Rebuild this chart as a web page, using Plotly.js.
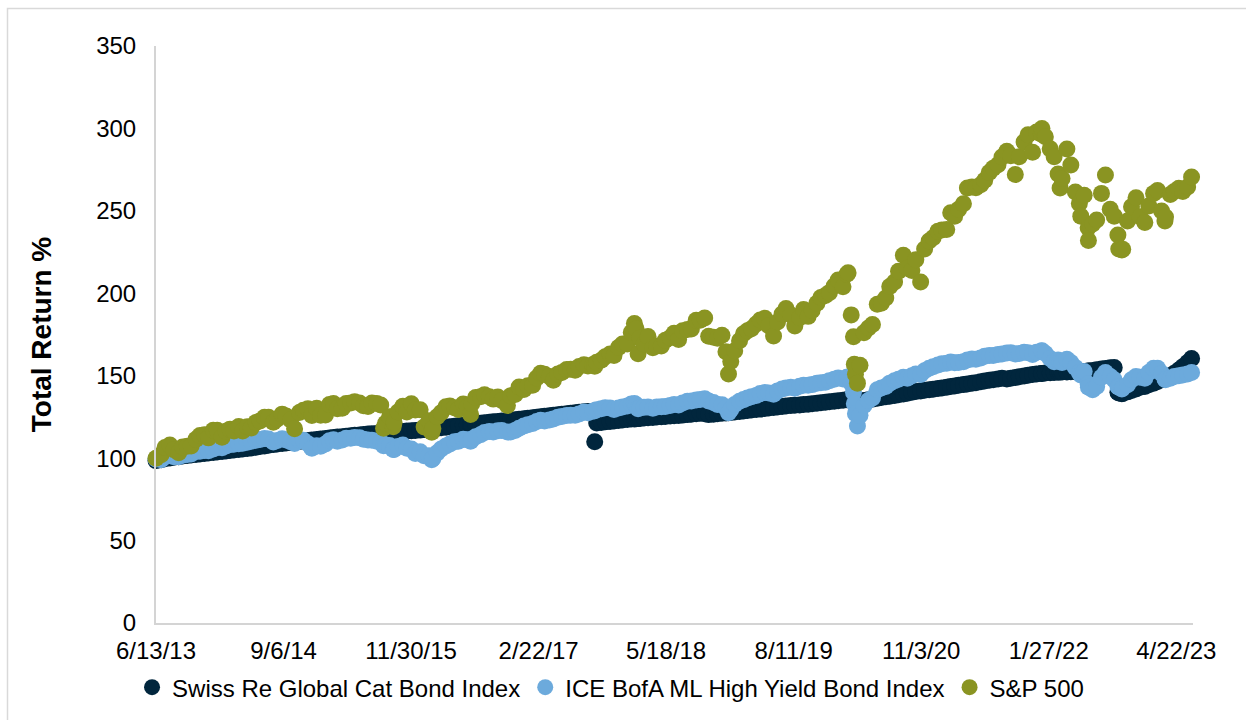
<!DOCTYPE html>
<html>
<head>
<meta charset="utf-8">
<script src="https://cdn.plot.ly/plotly-3.0.1.min.js"></script>
<style>
  html, body { margin: 0; padding: 0; background: #ffffff; }
  #chart { width: 1246px; height: 720px; }
</style>
</head>
<body>
<div id="chart"></div>
<script>
// Observation dates (semi-monthly, plus key market days)
const dates = [
  // 2013
  '2013-06-13','2013-07-01','2013-07-15','2013-08-01','2013-08-15','2013-09-01','2013-09-15','2013-10-01','2013-10-15','2013-11-01','2013-11-15','2013-12-01','2013-12-15',
  // 2014
  '2014-01-01','2014-01-15','2014-02-01','2014-02-15','2014-03-01','2014-03-15','2014-04-01','2014-04-15','2014-05-01','2014-05-15','2014-06-01','2014-06-15',
  '2014-07-01','2014-07-15','2014-08-01','2014-08-15','2014-09-01','2014-09-15','2014-10-01','2014-10-15','2014-11-01','2014-11-15','2014-12-01','2014-12-15',
  // 2015
  '2015-01-01','2015-01-15','2015-02-01','2015-02-15','2015-03-01','2015-03-15','2015-04-01','2015-04-15','2015-05-01','2015-05-15','2015-06-01','2015-06-15',
  '2015-07-01','2015-07-15','2015-08-01','2015-08-15','2015-08-25','2015-09-01','2015-09-15','2015-09-28','2015-10-01','2015-10-15','2015-11-01','2015-11-15','2015-12-01','2015-12-15',
  // 2016
  '2016-01-01','2016-01-15','2016-02-01','2016-02-11','2016-02-15','2016-03-01','2016-03-15','2016-04-01','2016-04-15','2016-05-01','2016-05-15','2016-06-01','2016-06-15',
  '2016-06-27','2016-07-01','2016-07-15','2016-08-01','2016-08-15','2016-09-01','2016-09-15','2016-10-01','2016-10-15','2016-11-04','2016-11-15','2016-12-01','2016-12-15',
  // 2017
  '2017-01-01','2017-01-15','2017-02-01','2017-02-15','2017-03-01','2017-03-15','2017-04-01','2017-04-15','2017-05-01','2017-05-15','2017-06-01','2017-06-15',
  '2017-07-01','2017-07-15','2017-08-01','2017-08-15','2017-09-01','2017-09-08','2017-09-15','2017-10-01','2017-10-15','2017-11-01','2017-11-15','2017-12-01','2017-12-15',
  // 2018
  '2018-01-01','2018-01-15','2018-01-26','2018-02-01','2018-02-08','2018-02-15','2018-03-01','2018-03-15','2018-04-01','2018-04-15','2018-05-01','2018-05-15','2018-06-01','2018-06-15',
  '2018-07-01','2018-07-15','2018-08-01','2018-08-15','2018-09-01','2018-09-15','2018-10-01','2018-10-15','2018-11-01','2018-11-15','2018-12-01','2018-12-15','2018-12-24',
  // 2019
  '2019-01-01','2019-01-15','2019-02-01','2019-02-15','2019-03-01','2019-03-15','2019-04-01','2019-04-15','2019-05-01','2019-05-15','2019-06-01','2019-06-15',
  '2019-07-01','2019-07-15','2019-08-01','2019-08-15','2019-09-01','2019-09-15','2019-10-01','2019-10-15','2019-11-01','2019-11-15','2019-12-01','2019-12-15',
  // 2020
  '2020-01-01','2020-01-15','2020-02-01','2020-02-15','2020-02-19','2020-03-01','2020-03-09','2020-03-12','2020-03-16','2020-03-23','2020-04-01','2020-04-15','2020-05-01','2020-05-15',
  '2020-06-01','2020-06-15','2020-07-01','2020-07-15','2020-08-01','2020-08-15','2020-09-01','2020-09-15','2020-10-01','2020-10-15','2020-11-01','2020-11-15','2020-12-01','2020-12-15',
  // 2021
  '2021-01-01','2021-01-15','2021-02-01','2021-02-15','2021-03-01','2021-03-15','2021-04-01','2021-04-15','2021-05-01','2021-05-15','2021-06-01','2021-06-15',
  '2021-07-01','2021-07-15','2021-08-01','2021-08-15','2021-09-01','2021-09-15','2021-10-01','2021-10-15','2021-11-01','2021-11-15','2021-12-01','2021-12-15',
  // 2022
  '2022-01-01','2022-01-03','2022-01-15','2022-02-01','2022-02-15','2022-03-01','2022-03-08','2022-03-15','2022-04-01','2022-04-15','2022-05-01','2022-05-15','2022-05-20','2022-06-01','2022-06-15',
  '2022-06-16','2022-07-01','2022-07-15','2022-08-01','2022-08-15','2022-09-01','2022-09-15','2022-09-28','2022-10-01','2022-10-12','2022-10-15','2022-11-01','2022-11-15','2022-12-01','2022-12-15',
  // 2023
  '2023-01-01','2023-01-15','2023-02-01','2023-02-15','2023-03-01','2023-03-13','2023-03-15','2023-04-01','2023-04-15','2023-05-01','2023-05-15','2023-06-01','2023-06-15'
];

// Swiss Re Global Cat Bond Index, rebased to 100
const catBond = [
  98.5, 99.0, 99.6, 100.1, 100.5, 100.9, 101.3, 101.6, 101.9, 102.2, 102.5, 102.8, 103.1,
  103.4, 103.7, 104.0, 104.3, 104.6, 104.9, 105.2, 105.5, 105.8, 106.2, 106.6, 107.0, 107.4, 107.8, 108.2, 108.6, 108.9, 109.2, 109.5, 109.8, 110.1, 110.4, 110.7, 111.0,
  111.3, 111.6, 111.9, 112.2, 112.5, 112.8, 113.0, 113.3, 113.6, 113.9, 114.1, 114.4, 114.6, 114.8, 115.0, 115.2, 115.3, 115.4, 115.6, 115.7, 115.8, 116.0, 116.2, 116.4, 116.6, 116.8,
  117.0, 117.3, 117.6, 117.8, 117.9, 118.2, 118.5, 118.8, 119.1, 119.4, 119.7, 120.0, 120.3, 120.4, 120.5, 120.8, 121.1, 121.4, 121.7, 122.0, 122.3, 122.5, 122.8, 123.0, 123.3, 123.6,
  123.9, 124.2, 124.5, 124.8, 125.1, 125.4, 125.7, 126.0, 126.3, 126.6, 126.9, 127.2, 127.5, 127.8, 128.1, 128.3, 128.4, 110.0, 121.3, 121.6, 122.0, 122.3, 122.6, 122.9, 123.2,
  123.5, 123.7, 123.8, 123.9, 124.0, 124.1, 124.3, 124.5, 124.7, 124.9, 125.1, 125.3, 125.5, 125.7, 125.9, 126.1, 126.4, 126.7, 127.0, 127.2, 127.0, 126.4, 126.6, 126.9, 127.2, 127.4, 127.5,
  127.7, 128.0, 128.3, 128.6, 128.9, 129.2, 129.5, 129.8, 130.1, 130.4, 130.7, 131.0, 131.3, 131.6, 131.9, 132.1, 132.3, 132.5, 132.7, 133.0, 133.3, 133.6, 133.9, 134.2,
  134.5, 134.8, 135.1, 135.4, 135.5, 135.7, 135.6, 135.2, 134.8, 134.6, 134.8, 135.0, 135.4, 135.8, 136.3, 136.8, 137.2, 137.6, 138.0, 138.4, 138.9, 139.4, 140.0, 140.5, 140.8, 141.2, 141.5, 141.8,
  142.2, 142.6, 143.0, 143.4, 143.8, 144.2, 144.6, 145.0, 145.4, 145.8, 146.3, 146.8, 147.2, 147.6, 148.0, 148.4, 148.0, 148.4, 148.9, 149.4, 149.9, 150.3, 150.7, 151.1,
  151.4, 151.4, 151.6, 151.8, 152.0, 152.1, 152.2, 152.2, 152.3, 152.4, 152.4, 152.3, 152.3, 152.5, 152.8, 152.8, 153.2, 153.6, 154.0, 154.4, 154.8, 155.0, 140.0, 139.5, 139.0, 139.2, 140.2, 141.0, 142.0, 143.0,
  143.5, 144.5, 145.5, 146.5, 147.5, 148.3, 148.5, 150.0, 151.5, 153.5, 155.5, 158.0, 160.5
];

// ICE BofA ML High Yield Bond Index, rebased to 100
const highYield = [
  99.5, 99.0, 100.8, 101.6, 100.9, 100.8, 101.8, 102.2, 102.5, 104.0, 104.2, 104.6, 104.5,
  105.6, 106.4, 106.3, 107.3, 108.2, 108.4, 108.8, 109.0, 109.6, 110.3, 110.8, 111.3, 111.9, 111.6, 109.8, 110.7, 111.7, 111.0, 109.9, 108.9, 110.8, 110.9, 108.7, 106.0,
  107.5, 107.2, 108.6, 110.5, 111.1, 110.3, 111.0, 112.0, 112.1, 112.5, 112.4, 111.4, 111.0, 110.9, 110.2, 109.7, 107.5, 107.9, 107.6, 105.2, 105.3, 107.0, 107.9, 106.0, 105.5, 102.8,
  103.9, 101.4, 101.4, 99.0, 99.8, 103.2, 105.5, 107.4, 108.6, 110.0, 110.2, 111.4, 111.2, 110.2, 111.5, 113.0, 114.2, 115.6, 116.1, 115.8, 116.6, 116.8, 115.8, 115.9, 116.8, 118.1,
  119.5, 120.3, 121.0, 122.2, 123.0, 122.5, 123.2, 123.8, 124.8, 125.3, 125.8, 126.0, 126.0, 126.8, 128.0, 127.6, 128.5, 128.8, 129.4, 130.0, 130.5, 130.4, 129.5, 130.4, 131.0,
  131.6, 132.8, 133.2, 132.4, 130.0, 130.6, 130.8, 131.0, 130.2, 131.0, 131.2, 131.3, 132.0, 132.6, 132.2, 133.4, 134.5, 134.6, 135.3, 135.6, 136.0, 134.6, 133.8, 132.6, 132.4, 130.4, 127.6,
  129.5, 132.5, 134.5, 135.5, 136.5, 137.2, 138.0, 139.2, 139.8, 139.5, 138.8, 140.8, 142.0, 142.6, 143.0, 142.4, 143.6, 144.2, 144.2, 144.6, 145.4, 145.8, 146.0, 147.0,
  147.8, 148.6, 148.0, 149.0, 149.2, 145.5, 140.0, 133.0, 127.0, 119.5, 126.0, 132.0, 135.0, 136.5, 141.5, 142.5, 143.5, 145.5, 147.0, 147.8, 149.0, 148.5, 150.0, 151.0, 150.8, 153.0, 154.5, 155.5,
  156.5, 157.2, 157.5, 158.3, 157.8, 158.0, 158.5, 159.6, 160.2, 160.0, 160.8, 161.8, 162.3, 162.2, 162.8, 163.2, 163.8, 164.0, 163.2, 163.5, 164.3, 164.0, 162.8, 164.2,
  165.0, 165.2, 163.5, 160.5, 158.5, 159.5, 158.5, 158.0, 160.0, 158.0, 155.0, 152.0, 150.5, 152.5, 145.0, 143.0, 141.5, 143.5, 149.0, 152.0, 149.5, 147.5, 143.5, 143.0, 142.0, 142.5, 144.5, 147.5, 149.5, 149.0,
  148.5, 152.0, 154.5, 154.5, 151.5, 148.0, 147.5, 148.5, 149.5, 150.0, 150.5, 151.0, 152.0
];

// S&P 500, rebased to 100
const sp500 = [
  100.0, 102.1, 106.4, 107.9, 105.1, 103.3, 106.8, 107.2, 107.4, 111.5, 113.7, 114.2, 112.3,
  116.9, 116.9, 112.7, 116.3, 117.6, 116.5, 119.2, 116.5, 119.1, 118.3, 121.7, 122.5, 124.8, 124.8, 121.8, 123.7, 126.7, 125.5, 123.1, 117.8, 127.7, 129.0, 129.9, 125.8,
  130.2, 126.0, 126.2, 132.6, 133.1, 129.9, 130.3, 133.2, 133.4, 134.2, 133.5, 131.8, 131.4, 133.4, 133.1, 132.3, 118.1, 121.1, 125.1, 119.0, 121.6, 128.0, 131.5, 128.0, 133.0, 129.2,
  129.3, 118.9, 122.7, 115.7, 117.9, 125.1, 127.5, 131.1, 131.6, 130.6, 129.5, 132.8, 131.0, 126.5, 133.0, 136.8, 137.3, 138.5, 137.3, 135.8, 137.1, 134.9, 131.9, 137.9, 138.6, 143.1,
  141.6, 143.9, 144.2, 148.6, 151.5, 150.9, 149.5, 147.3, 151.1, 152.0, 153.7, 153.9, 153.3, 155.6, 156.6, 155.9, 156.6, 155.7, 158.2, 159.4, 161.5, 163.1, 162.2, 167.1, 169.2,
  169.2, 176.2, 181.7, 178.5, 163.3, 172.8, 169.3, 173.8, 167.0, 168.0, 168.0, 171.5, 173.0, 175.8, 171.9, 177.2, 178.0, 178.3, 183.6, 183.7, 185.0, 174.0, 173.3, 172.7, 174.6, 164.5, 151.0,
  158.6, 165.1, 171.2, 175.5, 177.3, 178.5, 181.4, 183.8, 184.9, 180.3, 174.1, 182.6, 187.5, 190.7, 186.8, 180.1, 185.1, 190.2, 186.0, 189.5, 194.0, 197.4, 198.7, 200.4,
  204.4, 208.1, 204.0, 211.5, 212.5, 186.9, 173.7, 156.9, 150.9, 145.5, 156.3, 176.1, 179.0, 181.1, 193.3, 194.0, 197.1, 204.1, 206.9, 213.3, 223.1, 215.2, 213.8, 220.3, 206.9, 226.8, 231.7, 233.7,
  237.6, 238.4, 238.7, 248.9, 246.8, 251.0, 254.3, 263.8, 264.5, 264.0, 265.8, 268.6, 273.2, 275.8, 278.0, 282.6, 286.2, 283.4, 272.0, 282.8, 291.8, 296.2, 285.5, 297.9,
  296.5, 300.0, 294.9, 287.6, 282.8, 272.4, 263.8, 269.6, 287.5, 277.8, 261.4, 254.5, 246.8, 259.4, 239.8, 232.0, 242.0, 244.4, 260.6, 271.8, 251.0, 246.8, 235.3, 226.9, 226.3, 226.7, 243.9, 252.5, 257.9, 246.4,
  242.9, 253.0, 260.6, 262.4, 249.9, 243.9, 246.2, 259.9, 261.8, 263.7, 261.7, 264.5, 270.5
];

const seriesNames = ['Swiss Re Global Cat Bond Index', 'ICE BofA ML High Yield Bond Index', 'S&P 500'];
const seriesColors = ['#01263d', '#6caadc', '#8a9422'];
const yTicks = [0, 50, 100, 150, 200, 250, 300, 350];

const FONT = 'Liberation Sans, Arial, Helvetica, sans-serif';
const DAY_MS = 86400000;

const values = [catBond, highYield, sp500];
const traces = values.map((v, i) => ({
  type: 'scatter',
  mode: 'markers',
  name: seriesNames[i],
  x: dates,
  y: v,
  cliponaxis: false,
  marker: { color: seriesColors[i], size: 17, line: { width: 0 } },
  hoverinfo: 'x+y+name'
}));

const layout = {
  width: 1246,
  height: 720,
  margin: { l: 156, r: 53, t: 46, b: 97, pad: 0 },
  paper_bgcolor: '#ffffff',
  plot_bgcolor: '#ffffff',
  font: { family: FONT, size: 24, color: '#000000' },
  showlegend: true,
  legend: {
    orientation: 'h',
    xref: 'container', x: 0.49, xanchor: 'center',
    yref: 'container', y: 0.045, yanchor: 'middle',
    font: { family: FONT, size: 24, color: '#000000' },
    itemsizing: 'trace',
    traceorder: 'normal',
    bgcolor: 'rgba(0,0,0,0)'
  },
  xaxis: {
    type: 'date',
    range: ['2013-06-13', '2023-06-20'],
    tickmode: 'linear',
    tick0: '2013-06-13',
    dtick: 450 * DAY_MS,
    tickformat: '%-m/%-d/%y',
    showgrid: false,
    zeroline: false,
    showline: true,
    linecolor: '#d4d4d4',
    linewidth: 2,
    ticks: '',
    ticklabelstandoff: 5,
    tickfont: { family: FONT, size: 24, color: '#000000' },
    fixedrange: true
  },
  yaxis: {
    range: [0, 350],
    tickmode: 'array',
    tickvals: yTicks,
    ticktext: yTicks.map(String),
    showgrid: false,
    zeroline: false,
    showline: true,
    linecolor: '#d4d4d4',
    linewidth: 2,
    ticks: '',
    ticklabelstandoff: 13,
    tickfont: { family: FONT, size: 24, color: '#000000' },
    title: {
      text: '<b>Total Return %</b>',
      font: { family: FONT, size: 28, color: '#000000' },
      standoff: 36
    },
    fixedrange: true
  },
  shapes: [{
    type: 'rect',
    xref: 'paper', yref: 'paper',
    x0: -0.1432, x1: 1.07, y0: -0.21, y1: 1.065,
    line: { color: '#d9d9d9', width: 1.5 },
    fillcolor: 'rgba(0,0,0,0)',
    layer: 'below'
  }]
};

Plotly.newPlot('chart', traces, layout, { staticPlot: true, displayModeBar: false });
</script>
</body>
</html>
